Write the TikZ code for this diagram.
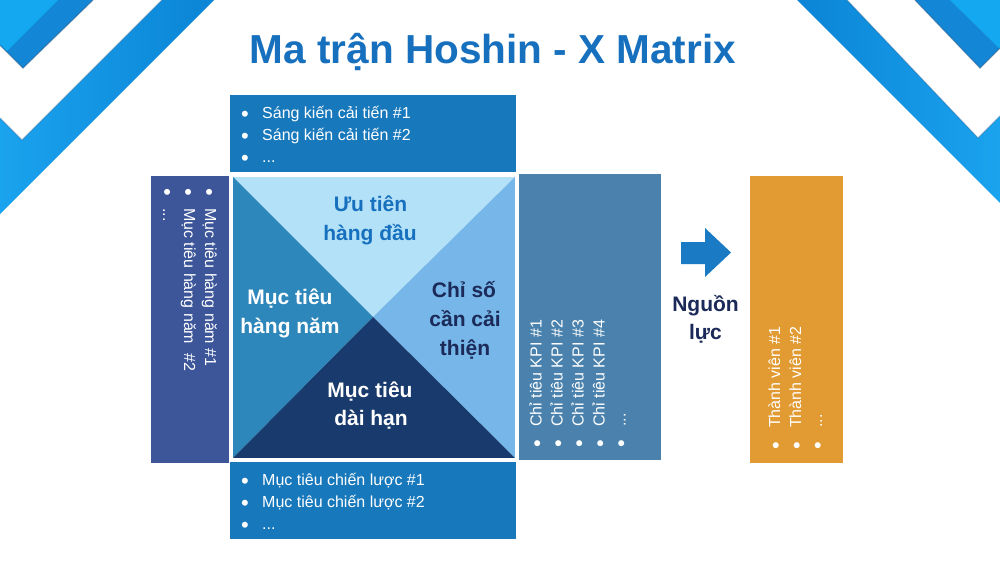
\documentclass[tikz,border=0pt]{standalone}
\usepackage{fontspec}
\setmainfont{Liberation Sans}
\definecolor{titlec}{HTML}{1770BE}
\definecolor{topc}{HTML}{1878BC}
\definecolor{leftc}{HTML}{3C5699}
\definecolor{kpic}{HTML}{4A82AD}
\definecolor{orangec}{HTML}{E29B32}
\definecolor{tritop}{HTML}{B3E1F8}
\definecolor{trileft}{HTML}{2D87BB}
\definecolor{triright}{HTML}{76B6E8}
\definecolor{tribot}{HTML}{183A6C}
\definecolor{navyc}{HTML}{1B2A58}
\definecolor{arrowc}{HTML}{1A7BC4}
\definecolor{cornerL}{HTML}{14A8F0}
\definecolor{cornerD}{HTML}{1486D6}
\definecolor{bandD}{HTML}{0B84D6}
\definecolor{bandL}{HTML}{1AA3EE}
\definecolor{shadowc}{HTML}{2B5F8E}
\newcommand{\mybul}[1]{\makebox[#1][l]{\hspace*{-1pt}\raisebox{-3.2pt}{\fontsize{22}{22}\selectfont\textbullet}}}
\begin{document}
\begin{tikzpicture}[x=1pt,y=-1pt,
  panel/.style={draw=none, inner sep=0pt, anchor=north west},
  bl/.style={anchor=base west, inner sep=0pt, font=\fontsize{16}{19}\selectfont, text=white},
  lab/.style={anchor=base, inner sep=0pt, font=\bfseries\fontsize{21}{25}\selectfont},
  edgeshadow/.style={draw=shadowc, line width=1.2pt, opacity=0.55, line join=miter}]
\useasboundingbox (0,0) rectangle (1000,562);
\fill[white] (0,0) rectangle (1000,562);

% corner decorations left
\fill[cornerD] (0,0) -- (93,0) -- (23,68) -- (0,45) -- cycle;
\fill[cornerL] (0,0) -- (58,0) -- (6.5,51.5) -- (0,45) -- cycle;
\draw[edgeshadow] (93,0) -- (23,68) -- (0,45);
\shade[left color=bandL, right color=bandD] (0,118) -- (22,140) -- (162,0) -- (214,0) -- (0,214) -- cycle;
\draw[edgeshadow, opacity=0.35] (0,118) -- (22,140) -- (162,0);

% corner decorations right
\fill[cornerD] (915,0) -- (1000,0) -- (1000,48) -- (980,68) -- cycle;
\fill[cornerL] (950,0) -- (1000,0) -- (1000,49) -- cycle;
\draw[edgeshadow] (915,0) -- (980,68) -- (1000,48);
\shade[left color=bandD, right color=bandL] (797,0) -- (847,0) -- (978,138) -- (1000,116) -- (1000,203) -- cycle;
\draw[edgeshadow, opacity=0.35] (847,0) -- (978,138) -- (1000,116);

% title
\node[anchor=base, inner sep=0pt, text=titlec, font=\bfseries\fontsize{40.5}{48}\selectfont] (title) at (493,63) {Ma trận Hoshin - X Matrix};

% panels
\node[panel, fill=topc, minimum width=286pt, minimum height=77pt] (toppanel) at (230,95) {};
\node[panel, fill=topc, minimum width=286pt, minimum height=77pt] (botpanel) at (230,462) {};
\node[panel, fill=leftc, minimum width=78pt, minimum height=287pt] (leftpanel) at (151,176) {};
\node[panel, fill=kpic, minimum width=142pt, minimum height=286pt] (kpipanel) at (519,174) {};
\node[panel, fill=orangec, minimum width=93pt, minimum height=287pt] (respanel) at (750,176) {};

% center square
\coordinate (TL) at (232,176);
\coordinate (TR) at (516,176);
\coordinate (BR) at (516,459);
\coordinate (BL) at (232,459);
\coordinate (C) at (373,317);
\fill[tritop] (TL) -- (TR) -- (C) -- cycle;
\fill[trileft] (TL) -- (C) -- (BL) -- cycle;
\fill[triright] (TR) -- (BR) -- (C) -- cycle;
\fill[tribot] (BL) -- (C) -- (BR) -- cycle;
\draw[white, line width=2pt] (TL) rectangle (BR);

% center labels
\node[lab, text=titlec] (q1a) at (370.5,211.7) {Ưu tiên};
\node[lab, text=titlec] (q1b) at (370,240) {hàng đầu};
\node[lab, text=white] (q2a) at (290,304) {Mục tiêu};
\node[lab, text=white] (q2b) at (290,333) {hàng năm};
\node[lab, text=navyc] (q3a) at (464,297) {Chỉ số};
\node[lab, text=navyc] (q3b) at (465,326.7) {cần cải};
\node[lab, text=navyc] (q3c) at (465,355) {thiện};
\node[lab, text=white] (q4a) at (370,397) {Mục tiêu};
\node[lab, text=white] (q4b) at (371,425) {dài hạn};

% top list
\node[bl] (t1) at (242,118) {\mybul{20pt}Sáng kiến cải tiến \#1};
\node[bl] (t2) at (242,140) {\mybul{20pt}Sáng kiến cải tiến \#2};
\node[bl] (t3) at (242,162) {\mybul{20pt}...};

% bottom list
\node[bl] (b1) at (242,485) {\mybul{20pt}Mục tiêu chiến lược \#1};
\node[bl] (b2) at (242,507) {\mybul{20pt}Mục tiêu chiến lược \#2};
\node[bl] (b3) at (242,529) {\mybul{20pt}...};

% left list (rotated)
\node[bl, rotate=-90] (l1) at (205,189) {\mybul{19pt}Mục tiêu hàng năm \#1};
\node[bl, rotate=-90] (l2) at (184,189) {\mybul{19pt}Mục tiêu hàng năm\ \ \#2};
\node[bl, rotate=-90] (l3) at (163,189) {\mybul{19pt}...};

% KPI list (rotated)
\node[bl, rotate=90] (k1) at (541.5,447) {\mybul{20pt}Chỉ tiêu KPI \#1};
\node[bl, rotate=90] (k2) at (562.5,447) {\mybul{20pt}Chỉ tiêu KPI \#2};
\node[bl, rotate=90] (k3) at (583.5,447) {\mybul{20pt}Chỉ tiêu KPI \#3};
\node[bl, rotate=90] (k4) at (604.5,447) {\mybul{20pt}Chỉ tiêu KPI \#4};
\node[bl, rotate=90] (k5) at (625.5,447) {\mybul{20pt}...};

% resources list (rotated)
\node[bl, rotate=90] (r1) at (780,449) {\mybul{21pt}Thành viên \#1};
\node[bl, rotate=90] (r2) at (801,449) {\mybul{21pt}Thành viên \#2};
\node[bl, rotate=90] (r3) at (822,449) {\mybul{21pt}...};

% arrow and label
\fill[arrowc] (681,242) -- (705,242) -- (705,228) -- (731,252.5) -- (705,277) -- (705,264) -- (681,264) -- cycle;
\node[lab, text=navyc] (n1) at (705.5,311.7) {Nguồn};
\node[lab, text=navyc] (n2) at (705.5,339) {lực};
\end{tikzpicture}
\end{document}
